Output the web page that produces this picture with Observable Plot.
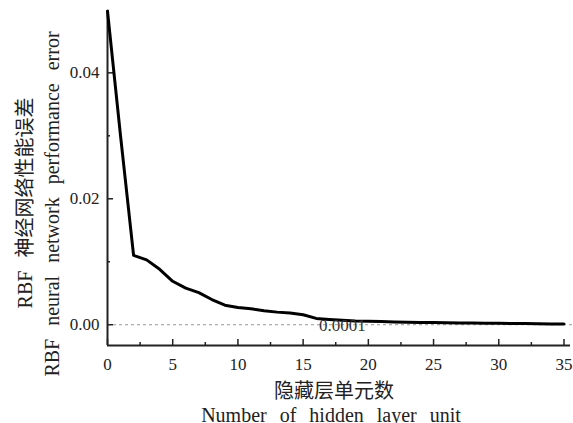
<!DOCTYPE html>
<html>
<head>
<meta charset="utf-8">
<script src="https://cdn.jsdelivr.net/npm/d3@7"></script>
<script src="https://cdn.jsdelivr.net/npm/@observablehq/plot@0.6"></script>
<style>
  html, body { margin: 0; padding: 0; background: #fff; }
  svg text { word-spacing: 8px; }
</style>
</head>
<body>
<div id="chart"></div>
<script>
// Data
const hiddenUnits = [0, 1, 2, 3, 4, 5, 6, 7, 8, 9, 10, 11, 12, 13, 14, 15, 16, 17, 18,
  19, 20, 21, 22, 23, 24, 25, 26, 27, 28, 29, 30, 31, 32, 33, 34, 35];
const perfError = [0.0498, 0.0300, 0.0110, 0.0103, 0.0088, 0.0069, 0.0058, 0.0051, 0.0040,
  0.0031, 0.00275, 0.00254, 0.00222, 0.0020, 0.00185, 0.00159, 0.0010, 0.00084, 0.0007,
  0.0006, 0.00055, 0.0005, 0.00045, 0.0004, 0.00037, 0.00034, 0.0003, 0.00028, 0.00026,
  0.00024, 0.00022, 0.0002, 0.00018, 0.00015, 0.00012, 0.0001];
const xMajorTicks = [0, 5, 10, 15, 20, 25, 30, 35];
const xMinorTicks = [2.5, 7.5, 12.5, 17.5, 22.5, 27.5, 32.5];
const yMajorTicks = [0, 0.02, 0.04];
const yMinorTicks = [0.01, 0.03];
const xLabelCn = "隐藏层单元数";
const xLabelEn = "Number of hidden layer unit";
const yLabelCn = "RBF 神经网络性能误差";
const yLabelEn = "RBF neural network performance error";
const annotation = [{x: 18, y: 0, text: "0.0001"}];

const data = hiddenUnits.map((x, i) => ({x, y: perfError[i]}));
const yMin = -0.0033, yMax = 0.0499;
const xMin = 0, xMax = 35.5;
const serif = "'Liberation Serif', 'Noto Sans CJK SC', serif";

const chart = Plot.plot({
  width: 573,
  height: 423,
  marginLeft: 107,
  marginRight: 3,
  marginTop: 10,
  marginBottom: 78,
  style: {fontFamily: serif, fontSize: "17px", background: "#fff", color: "#222"},
  x: {domain: [xMin, xMax]},
  y: {domain: [yMin, yMax]},
  marks: [
    // dashed zero reference
    Plot.ruleY([0], {stroke: "#999", strokeWidth: 1, strokeDasharray: "3,3", insetRight: -3}),
    // axes lines
    Plot.ruleX([xMin], {y1: yMin, y2: yMax, stroke: "#222", strokeWidth: 2}),
    Plot.ruleY([yMin], {x1: xMin, x2: xMax, stroke: "#222", strokeWidth: 2}),
    // inward ticks
    Plot.ruleX(xMajorTicks, {x: d => d, y1: yMin, y2: yMin, insetTop: -6, stroke: "#222", strokeWidth: 1.5}),
    Plot.ruleX(xMinorTicks, {x: d => d, y1: yMin, y2: yMin, insetTop: -3, stroke: "#222", strokeWidth: 1.5}),
    Plot.ruleY(yMajorTicks, {y: d => d, x1: xMin, x2: xMin, insetRight: -6, stroke: "#222", strokeWidth: 1.5}),
    Plot.ruleY(yMinorTicks, {y: d => d, x1: xMin, x2: xMin, insetRight: -3, stroke: "#222", strokeWidth: 1.5}),
    // tick labels
    Plot.axisX({ticks: xMajorTicks, tickSize: 0, tickPadding: 12, label: null, tickFormat: d => String(d), fontSize: 17}),
    Plot.axisY({ticks: yMajorTicks, tickSize: 0, tickPadding: 8, label: null, tickFormat: d3.format(".2f"), fontSize: 17}),
    // data line
    Plot.line(data, {x: "x", y: "y", stroke: "#000", strokeWidth: 3, strokeLinejoin: "round"}),
    // annotation
    Plot.text(annotation, {x: "x", y: "y", text: "text", dy: 1, fontSize: 17, fill: "#333"}),
    // axis titles
    Plot.text([xLabelCn], {frameAnchor: "bottom", textAnchor: "middle", lineAnchor: "middle", dx: -5, dy: 46, fontSize: 20, fill: "#222"}),
    Plot.text([xLabelEn], {frameAnchor: "bottom", textAnchor: "middle", lineAnchor: "middle", dx: -8, dy: 70, fontSize: 20, fill: "#222"}),
    Plot.text([yLabelCn], {frameAnchor: "left", textAnchor: "middle", lineAnchor: "middle", rotate: -90, dx: -82, dy: 25, fontSize: 20, fill: "#222"}),
    Plot.text([yLabelEn], {frameAnchor: "left", textAnchor: "middle", lineAnchor: "middle", rotate: -90, dx: -55, dy: 26, fontSize: 20, fill: "#222"})
  ]
});
document.getElementById("chart").appendChild(chart);
</script>
</body>
</html>
